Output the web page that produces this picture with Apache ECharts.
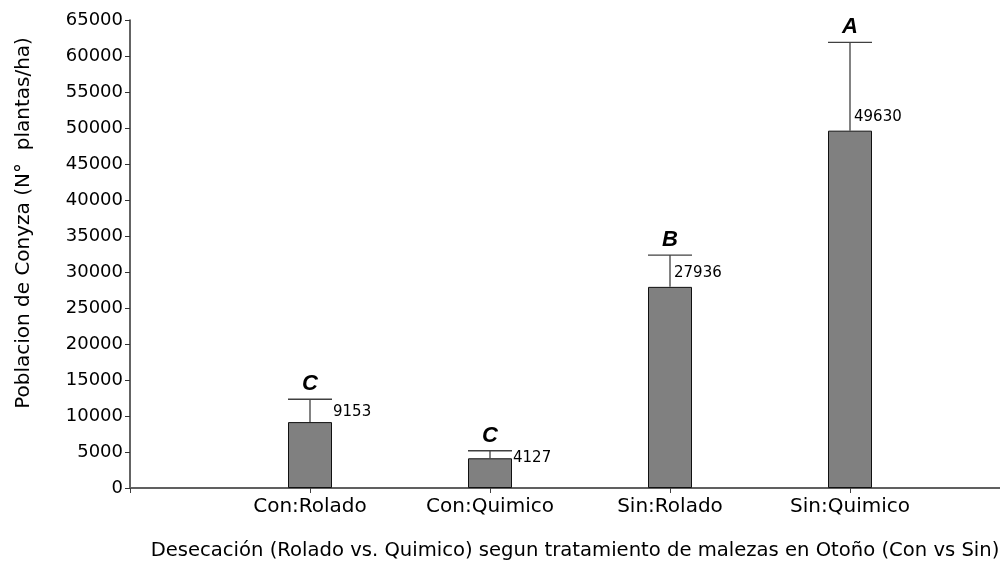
<!DOCTYPE html>
<html>
<head>
<meta charset="utf-8">
<script src="https://cdn.jsdelivr.net/npm/echarts@6/dist/echarts.min.js"></script>
<style>
html,body{margin:0;padding:0;background:#fff;}
#chart{width:1000px;height:563px;}
</style>
</head>
<body>
<div id="chart"></div>
<script>
// ---- data ----
const categories = ['Con:Rolado', 'Con:Quimico', 'Sin:Rolado', 'Sin:Quimico'];
const means = [9153, 4127, 27936, 49630];
const errors = [3170, 1050, 4420, 12270];
const letters = ['C', 'C', 'B', 'A'];
const yMin = 0, yMax = 65000, yStep = 5000;
const xTitle = 'Desecación (Rolado vs. Quimico) segun tratamiento de malezas en Otoño (Con vs Sin)';
const yTitle = 'Poblacion de Conyza (N°  plantas/ha)';

// ---- chart ----
const axisCats = [''].concat(categories, ['']);
const barData = [null].concat(means, [null]);
const errData = categories.map((c, i) => [i + 1, means[i], errors[i]]);
const BAR_W = 44;

const chart = echarts.init(document.getElementById('chart'), null, {renderer: 'canvas'});
chart.setOption({
  animation: false,
  backgroundColor: '#ffffff',
  grid: {left: 130, right: -30, top: 20, bottom: 75, containLabel: false, outerBoundsMode: 'none'},
  xAxis: {
    type: 'category',
    data: axisCats,
    boundaryGap: false,
    name: xTitle,
    nameLocation: 'middle',
    nameGap: 53,
    nameTextStyle: {fontFamily: 'DejaVu Sans', fontSize: 19.6, color: '#000', padding: [0, 10, 0, 0]},
    axisLine: {lineStyle: {color: '#606060', width: 2}},
    axisTick: {show: true, length: 5, lineStyle: {color: '#404040', width: 1}, interval: 0,
      alignWithLabel: true},
    axisLabel: {fontFamily: 'DejaVu Sans', fontSize: 20, color: '#000', margin: 9, interval: 0},
    splitLine: {show: false}
  },
  yAxis: {
    type: 'value',
    min: yMin, max: yMax, interval: yStep,
    name: yTitle,
    nameLocation: 'middle',
    nameGap: 96,
    nameTextStyle: {fontFamily: 'DejaVu Sans', fontSize: 20, color: '#000', padding: [0, 0, 0, 62]},
    axisLine: {show: true, lineStyle: {color: '#303030', width: 1.5}},
    axisTick: {show: true, length: 5, lineStyle: {color: '#303030', width: 1}},
    axisLabel: {fontFamily: 'DejaVu Sans', fontSize: 18, color: '#000', margin: 7,
      formatter: function (v) { return String(v); }},
    splitLine: {show: false}
  },
  series: [
    {
      type: 'bar',
      data: barData,
      barWidth: BAR_W,
      itemStyle: {color: '#808080', borderColor: '#111', borderWidth: 1},
      z: 2
    },
    {
      type: 'custom',
      data: errData,
      z: 3,
      renderItem: function (params, api) {
        const i = params.dataIndex;
        const base = api.coord([api.value(0), api.value(1)]);
        const cap = api.coord([api.value(0), api.value(1) + api.value(2)]);
        const half = BAR_W / 2;
        const gap = base[1] - cap[1];
        const lx = gap >= 25 ? base[0] + 4 : base[0] + half + 1;
        const ly = base[1] - Math.max(0, Math.min(14, gap - 13));
        return {
          type: 'group',
          children: [
            {type: 'line', shape: {x1: base[0], y1: base[1], x2: cap[0], y2: cap[1]},
              style: {stroke: '#404040', lineWidth: 1.3}},
            {type: 'line', shape: {x1: cap[0] - half, y1: cap[1], x2: cap[0] + half, y2: cap[1]},
              style: {stroke: '#404040', lineWidth: 1.3}},
            {type: 'text', style: {text: letters[i], x: cap[0], y: cap[1] - 4,
              align: 'center', verticalAlign: 'bottom',
              fontFamily: 'Liberation Sans', fontSize: 22, fontWeight: 'bold', fontStyle: 'italic', fill: '#000'}},
            {type: 'text', style: {text: String(means[i]), x: lx, y: ly,
              align: 'left', verticalAlign: 'middle',
              fontFamily: 'DejaVu Sans', fontSize: 15, fill: '#000'}}
          ]
        };
      }
    }
  ]
});
</script>
</body>
</html>
